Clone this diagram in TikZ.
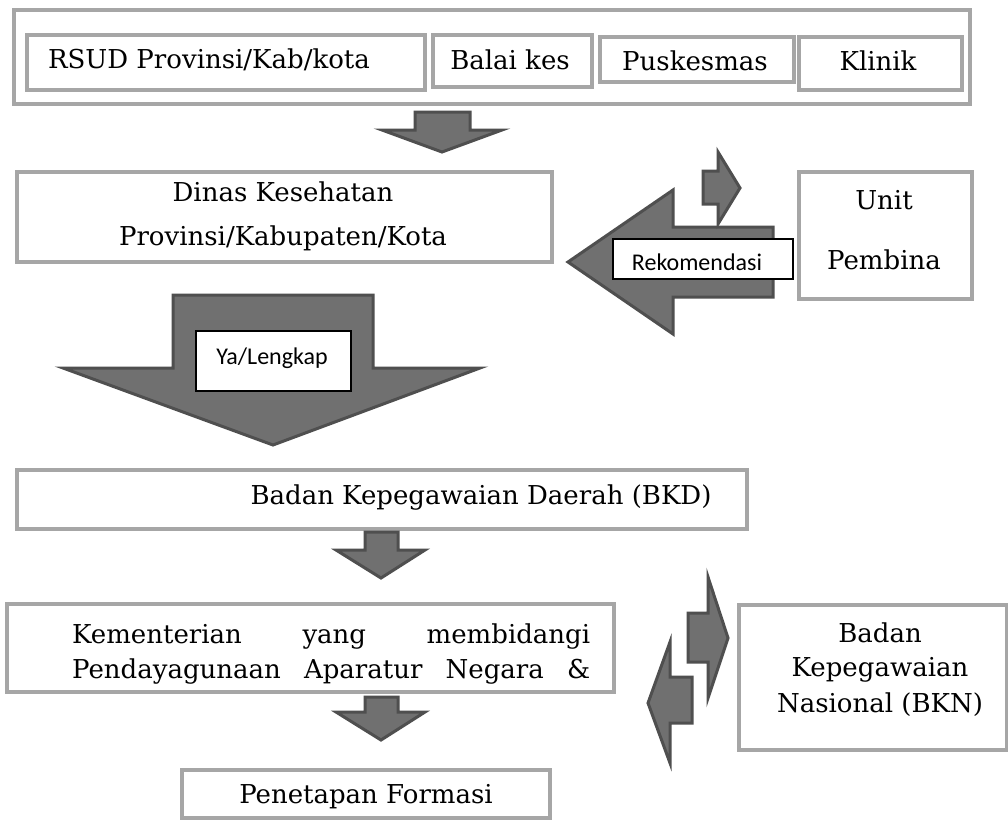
\documentclass[tikz,border=0pt]{standalone}
\usepackage{fontspec}
\setmainfont{DejaVu Serif}
\newfontfamily\calib{Carlito}
\definecolor{boxgray}{HTML}{A6A6A6}
\definecolor{arrfill}{HTML}{707070}
\definecolor{arrline}{HTML}{4F4F4F}
\begin{document}
\begin{tikzpicture}[x=1pt,y=-1pt,
  gbox/.style={draw=boxgray, line width=4pt, fill=white, inner sep=0pt, anchor=north west},
  obox/.style={draw=boxgray, line width=3.5pt, fill=white, inner sep=0pt, anchor=north west},
  blk/.style={fill=arrfill, draw=arrline, line width=3pt, line join=miter},
  lbl/.style={draw=black, line width=1.5pt, fill=white, inner sep=0pt, anchor=north west},
  lbltxt/.style={font=\calib\fontsize{24}{28}\selectfont, inner sep=0pt},
  txt/.style={font=\fontsize{26}{30}\selectfont, inner sep=0pt, align=center}]
\useasboundingbox (0,0) rectangle (1008,820);
\fill[white] (0,0) rectangle (1008,820);
% top group
\node[obox, minimum width=956pt, minimum height=94pt] (outer) at (12,8) {};
\node[gbox, minimum width=398pt, minimum height=55pt] (rsud) at (25,33) {};
\node[gbox, minimum width=159pt, minimum height=52pt] (balai) at (431,33) {};
\node[gbox, minimum width=194pt, minimum height=45pt] (pusk) at (598,35) {};
\node[gbox, minimum width=163pt, minimum height=53pt] (klinik) at (797,35) {};
\node[txt] (trsud) at (209,60) {RSUD Provinsi/Kab/kota};
\node[txt] (tbalai) at (510,60) {Balai kes};
\node[txt] (tpusk) at (695,61) {Puskesmas};
\node[txt] (tklinik) at (878,61) {Klinik};
% Dinas
\node[gbox, minimum width=535pt, minimum height=90pt] (dinas) at (15,170) {};
\node[txt] (tdinas1) at (283,192) {Dinas Kesehatan};
\node[txt] (tdinas2) at (283,238) {Provinsi/Kabupaten/Kota};
% Unit Pembina
\node[gbox, minimum width=173pt, minimum height=127pt] (pembina) at (797,170) {};
\node[txt] (tunit) at (884,200) {Unit};
\node[txt] (tpemb) at (884,260) {Pembina};
% BKD
\node[gbox, minimum width=730pt, minimum height=59pt] (bkd) at (15,468) {};
\node[txt] (tbkd) at (481,497) {Badan Kepegawaian Daerah (BKD)};
% Kementerian
\node[gbox, minimum width=607pt, minimum height=88pt] (kem) at (5,602) {};
\node[txt, anchor=west] (tkem1) at (72,636) {\makebox[518pt][s]{Kementerian yang membidangi}};
\node[txt, anchor=west] (tkem2) at (72,671) {\makebox[518pt][s]{Pendayagunaan Aparatur Negara \&}};
% BKN
\node[gbox, minimum width=268pt, minimum height=145pt] (bkn) at (737,603) {};
\node[txt] (tbkn1) at (880,633) {Badan};
\node[txt] (tbkn2) at (880,670) {Kepegawaian};
\node[txt] (tbkn3) at (880,705) {Nasional (BKN)};
% Penetapan
\node[gbox, minimum width=368pt, minimum height=48pt] (pen) at (180,768) {};
\node[txt] (tpen) at (366,797) {Penetapan Formasi};
% block arrows
\draw[blk] (415,112) -- (470,112) -- (470,130) -- (502,130) -- (442,152) -- (382,130) -- (415,130) -- cycle;
\draw[blk] (173,295) -- (373,295) -- (373,368) -- (480,368) -- (273,445) -- (63,368) -- (173,368) -- cycle;
\draw[blk] (773,227) -- (773,297) -- (673,297) -- (673,334) -- (568,262) -- (673,190) -- (673,227) -- cycle;
\draw[blk] (703,171) -- (718,171) -- (718,152) -- (740,188) -- (718,224) -- (718,204) -- (703,204) -- cycle;
\draw[blk] (365,532) -- (398,532) -- (398,550) -- (425,550) -- (381,578) -- (336,550) -- (365,550) -- cycle;
\draw[blk] (365,697) -- (398,697) -- (398,712) -- (425,712) -- (381,740) -- (336,712) -- (365,712) -- cycle;
\draw[blk] (688,613) -- (708,613) -- (708,577) -- (728,638) -- (708,698) -- (708,662) -- (688,662) -- cycle;
\draw[blk] (692,677) -- (692,723) -- (670,723) -- (670,763) -- (648,703) -- (670,642) -- (670,677) -- cycle;
% labels on arrows
\node[lbl, minimum width=155pt, minimum height=60pt] (ya) at (195,330) {};
\node[lbltxt] (tya) at (272,358) {Ya/Lengkap};
\node[lbl, minimum width=180pt, minimum height=40pt] (rek) at (612,238) {};
\node[lbltxt] (trek) at (697,262) {Rekomendasi};
\end{tikzpicture}
\end{document}
